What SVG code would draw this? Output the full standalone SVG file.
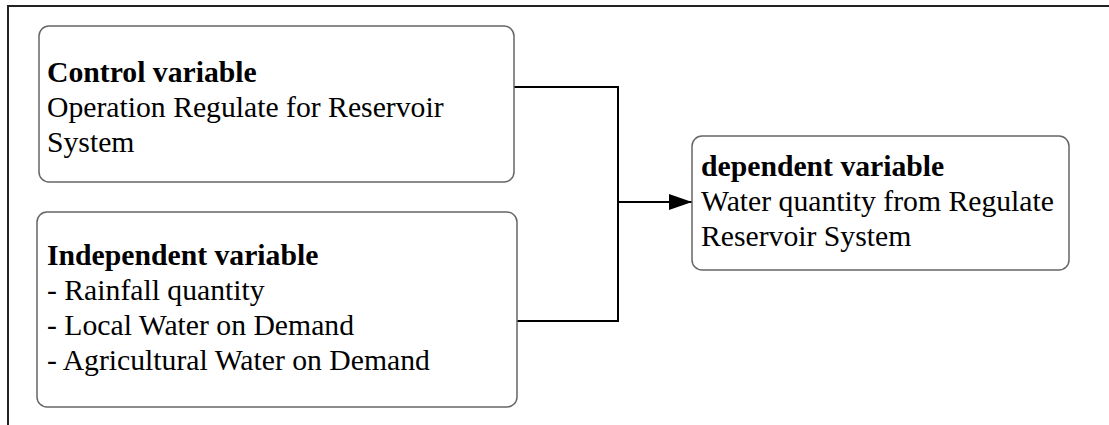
<svg xmlns="http://www.w3.org/2000/svg" width="1109" height="425" viewBox="0 0 1109 425">
<defs>
<marker id="arr" markerWidth="23" markerHeight="16" refX="23" refY="8" orient="auto" markerUnits="userSpaceOnUse">
<path d="M0,0 L23,8 L0,16 Z" fill="#000"/>
</marker>
<style>
.frame{fill:none;stroke:#222;stroke-width:2}
.box{fill:#fff;stroke:#666;stroke-width:1.5}
.conn{fill:none;stroke:#000;stroke-width:2}
text{font-family:"Liberation Serif","Times New Roman",serif;font-size:29.7px;fill:#000}
.b{font-weight:bold}
</style>
</defs>
<rect width="1109" height="425" fill="#fff"/>
<path class="frame" d="M8,425 V6 H1109"/>
<g id="connectors">
<path class="conn" d="M514,87 H618 V321 H517"/>
<path class="conn" d="M618,202 H692" marker-end="url(#arr)"/>
</g>
<g id="control">
<rect class="box" x="39" y="26" width="475" height="156" rx="10"/>
<text x="47" y="82" class="b">Control variable</text>
<text x="47" y="117">Operation Regulate for Reservoir</text>
<text x="47" y="152">System</text>
</g>
<g id="independent">
<rect class="box" x="37" y="212" width="480" height="195" rx="10"/>
<text x="47" y="265" class="b">Independent variable</text>
<text x="47" y="300">- Rainfall quantity</text>
<text x="47" y="335">- Local Water on Demand</text>
<text x="47" y="370">- Agricultural Water on Demand</text>
</g>
<g id="dependent">
<rect class="box" x="692" y="136" width="377" height="134" rx="10"/>
<text x="701" y="176" class="b">dependent variable</text>
<text x="701" y="211">Water quantity from Regulate</text>
<text x="701" y="246">Reservoir System</text>
</g>
</svg>
